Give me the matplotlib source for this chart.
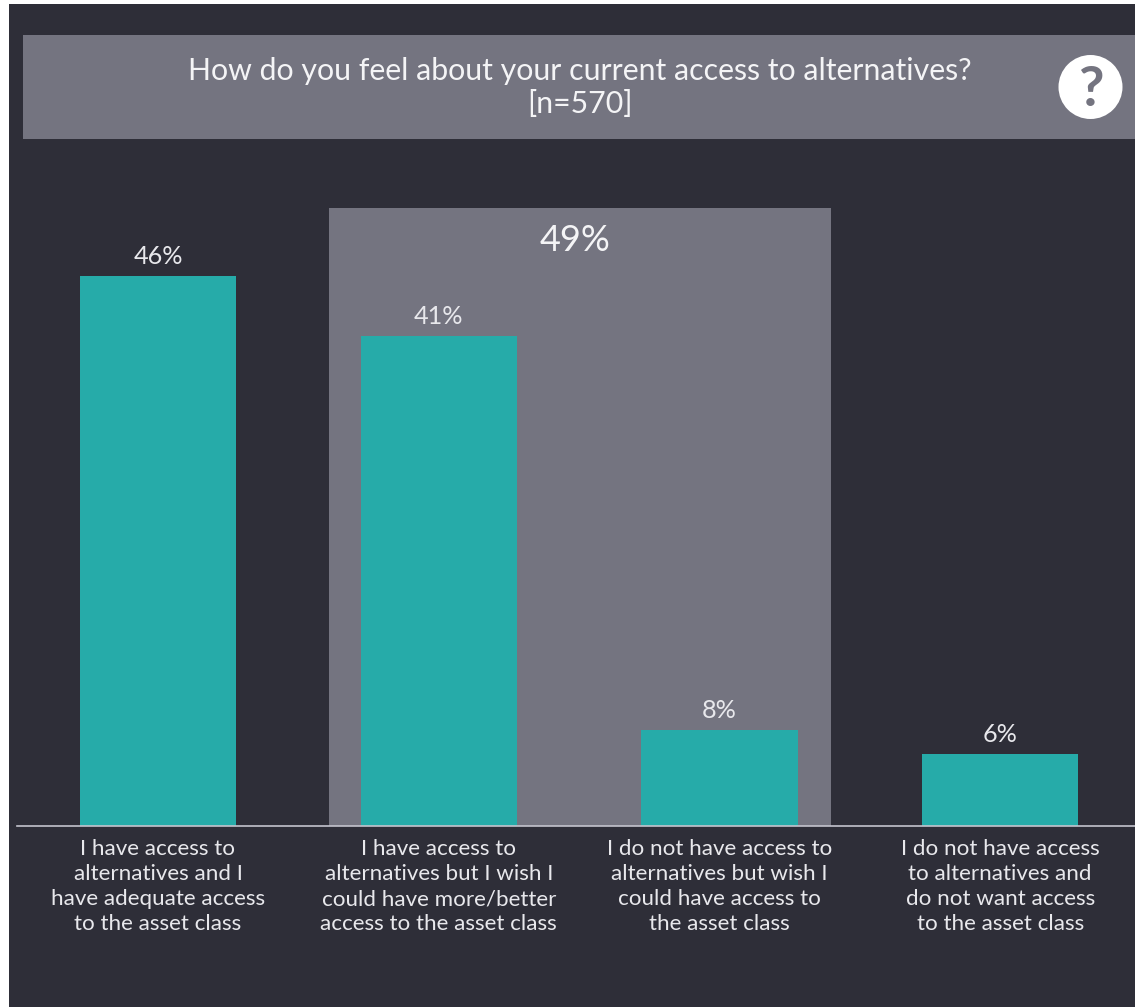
import matplotlib
matplotlib.use('Agg')
import matplotlib.pyplot as plt
from matplotlib.patches import Rectangle, Circle

plt.rcParams['font.family'] = ['Lato', 'DejaVu Sans']

Categories = [
    'I have access to\nalternatives and I\nhave adequate access\nto the asset class',
    'I have access to\nalternatives but I wish I\ncould have more/better\naccess to the asset class',
    'I do not have access to\nalternatives but wish I\ncould have access to\nthe asset class',
    'I do not have access\nto alternatives and\ndo not want access\nto the asset class',
]
Shares = [46, 41, 8, 6]
Group_Share = 49
Title = 'How do you feel about your current access to alternatives?\n[n=570]'

W, H = 1135, 1007
DARK = '#2e2e38'
GREY = '#747480'
TEAL = '#26aba9'
TEXT = '#e8e8ec'

fig = plt.figure(figsize=(W / 100, H / 100), dpi=100, facecolor='white')

# page background and header band, laid out in pixels from the top left
bg = fig.add_axes([0, 0, 1, 1])
bg.set_xlim(0, W)
bg.set_ylim(H, 0)
bg.axis('off')
bg.add_patch(Rectangle((9, 4), W - 9, H - 4, color=DARK, lw=0))
bg.add_patch(Rectangle((23, 35), W - 23, 104, color=GREY, lw=0))
bg.text(580, 87.5, Title, color='#f4f4f6', fontsize=21.8, fontweight='normal',
        ha='center', va='center', linespacing=1.26)
bg.add_patch(Circle((1090.5, 87), 32, color='white', lw=0))
bg.text(1090.5, 90, '?', color=GREY, fontsize=40, fontweight='bold',
        ha='center', va='center')

# bar chart, baseline at y=826
ax = fig.add_axes([17 / W, 1 - 826 / H, (W - 17) / W, 618 / H])
ax.patch.set_alpha(0)
ax.set_xlim(-0.502, 3.48)
ax.set_ylim(0, 618 / 11.95)

X = range(len(Shares))

# shaded block grouping the two "wish" answers
ax.axvspan(0.610, 2.398, color=GREY, lw=0, zorder=0)
ax.text(1.485, 49.0, f'{Group_Share}%', color='#f4f4f6', fontsize=26, fontweight='normal',
        ha='center', va='center')

bars = ax.bar(X, Shares, width=0.556, color=TEAL, zorder=2)
ax.bar_label(bars, labels=[f'{s}%' for s in Shares], padding=6, color=TEXT,
             fontsize=18.2, fontweight='normal')

ax.set_xticks(list(X))
ax.set_xticklabels(Categories, color=TEXT, fontsize=16.1, fontweight='normal', linespacing=1.31)
ax.tick_params(axis='x', length=0, pad=9.5)
ax.set_yticks([])
for side in ['top', 'left', 'right']:
    ax.spines[side].set_visible(False)
ax.spines['bottom'].set_color('#c4c4cd')
ax.spines['bottom'].set_linewidth(1.2)

fig.savefig('out.png', dpi=100, facecolor='white')
